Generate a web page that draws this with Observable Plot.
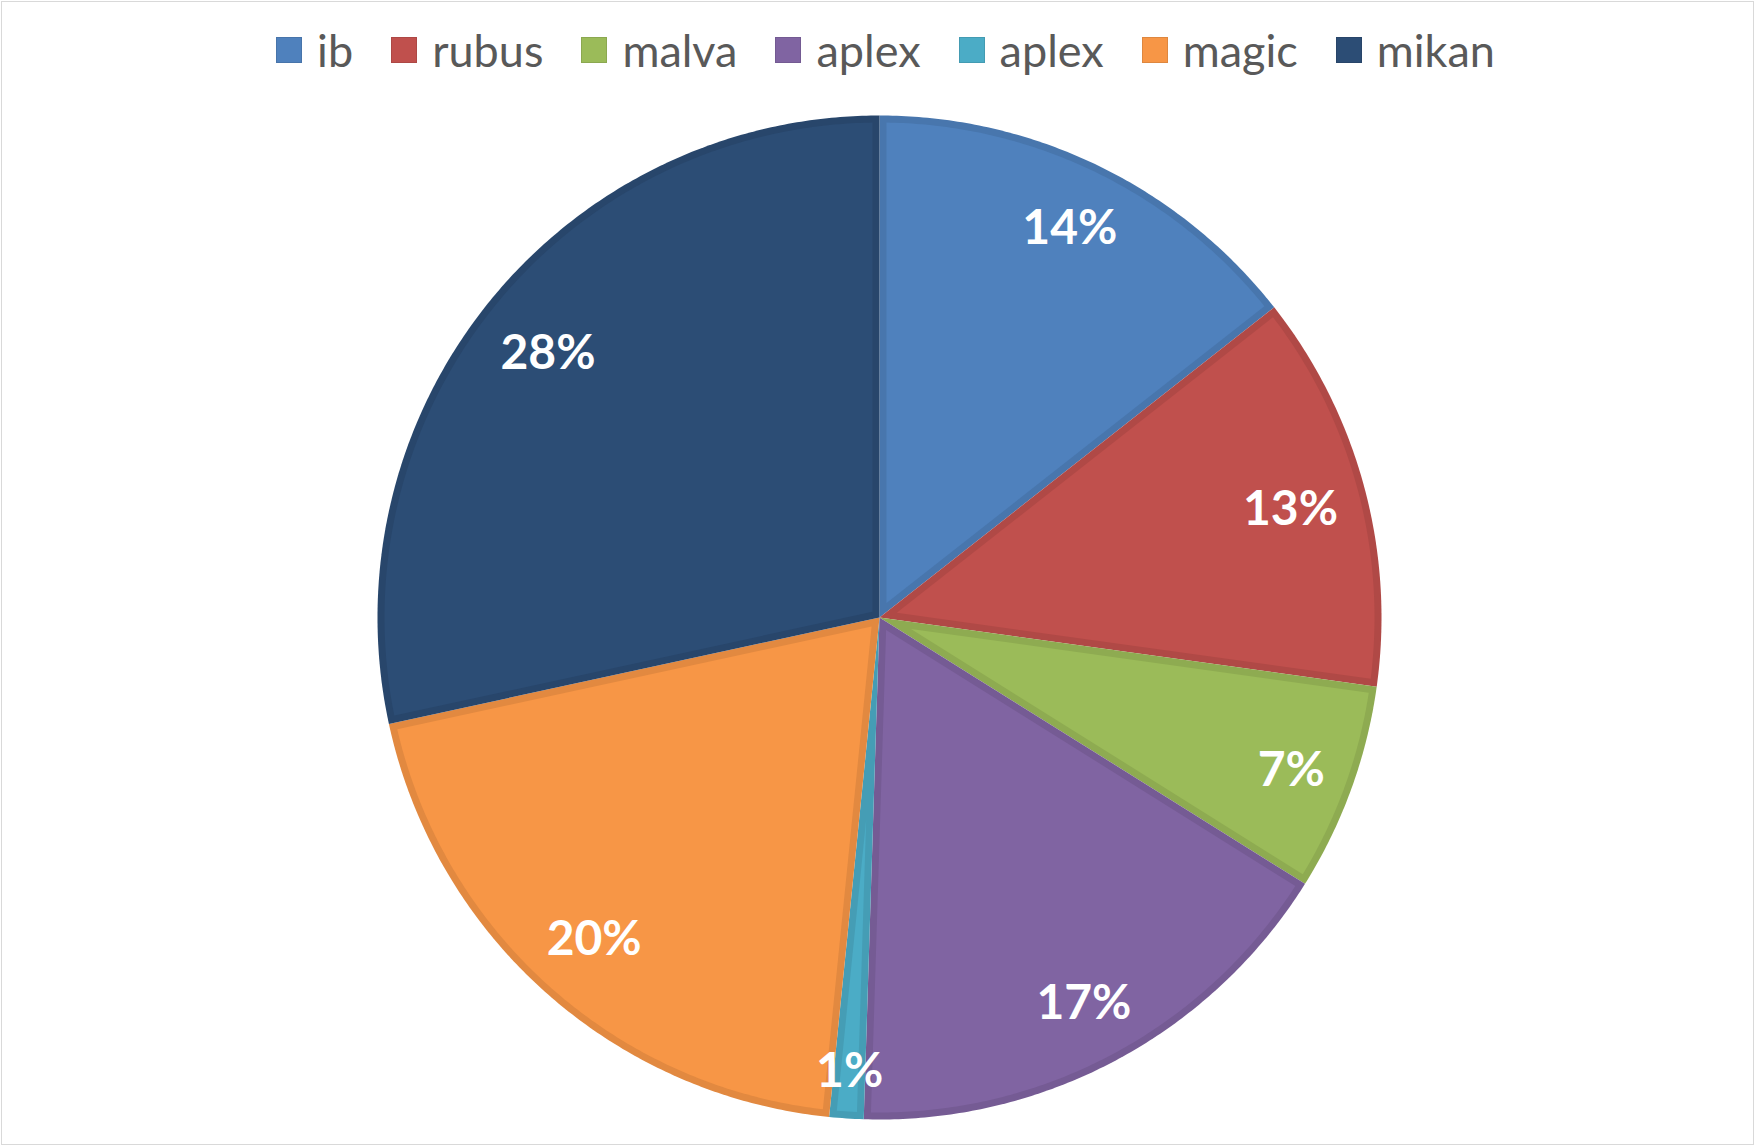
<!DOCTYPE html>
<html>
<head>
<meta charset="utf-8">
<script src="https://cdn.jsdelivr.net/npm/d3@7"></script>
<script src="https://cdn.jsdelivr.net/npm/@observablehq/plot@0.6"></script>
<style>
  html, body { margin: 0; padding: 0; background: #fff; }
  #frame {
    position: absolute; left: 1px; top: 1px;
    width: 1751px; height: 1142px;
    border: 1px solid #d9d9d9; background: #fff; overflow: hidden;
  }
  #legend {
    height: 100px; display: flex; justify-content: center; align-items: center;
    font-family: Lato, "Open Sans", sans-serif; font-size: 45px; color: #595959;
    padding-left: 16px; padding-bottom: 5px; box-sizing: border-box;
  }
  .item { display: flex; align-items: center; margin-right: 38px; }
  .item:last-child { margin-right: 0; }
  .swatch { width: 26px; height: 26px; margin-right: 15px; box-sizing: border-box; }
  #chart svg { display: block; }
</style>
</head>
<body>
<div id="frame">
  <div id="legend"></div>
  <div id="chart"></div>
</div>
<script>
// ---- data ----
const categories = ["ib", "rubus", "malva", "aplex", "aplex", "magic", "mikan"];
const shares = [14.4, 12.8, 6.7, 16.6, 1.1, 20.0, 28.4];
const palette = ["#4F81BD", "#C0504D", "#9BBB59", "#8064A2", "#4BACC6", "#F79646", "#2C4D75"];

// ---- layout ----
const W = 1751, H = 1042;
const cx = 877, cy = 515, R = 502;
const band = 7 / R;        // inner darker edge, in radius units
const labelFont = "bold 48px Lato, 'Open Sans', sans-serif";
const labelOuter = 0.952;  // outer reach of label boxes, radius units
const labelHalfH = 24;     // half label box height, px

// legend
const legend = d3.select("#legend");
categories.forEach((c, i) => {
  const it = legend.append("div").attr("class", "item");
  it.append("div").attr("class", "swatch")
    .style("background", palette[i])
    .style("border", "1px solid " + d3.rgb(palette[i]).darker(0.3).formatHex());
  it.append("span").text(c);
});

// slices
const total = d3.sum(shares);
let acc = 0;
const slices = shares.map((v, i) => {
  const a0 = acc / total * 2 * Math.PI;
  acc += v;
  const a1 = acc / total * 2 * Math.PI;
  return {id: i, name: categories[i], value: v, a0, a1, color: palette[i],
          dark: d3.rgb(palette[i]).darker(0.25).formatHex()};
});

function arcPoints(s, rho, b0, b1, apex) {
  const pts = [{id: s.id, x: apex[0], y: apex[1]}];
  const n = Math.max(4, Math.ceil((b1 - b0) / (Math.PI / 360)));
  for (let k = 0; k <= n; k++) {
    const a = b0 + (b1 - b0) * k / n;
    pts.push({id: s.id, x: rho * Math.sin(a), y: rho * Math.cos(a)});
  }
  return pts;
}

const outer = slices.flatMap(s => arcPoints(s, 1, s.a0, s.a1, [0, 0]).map(p => ({...p, fill: s.dark})));
const inner = slices.flatMap(s => {
  const half = (s.a1 - s.a0) / 2, mid = (s.a0 + s.a1) / 2;
  const off = band / Math.sin(half);
  const shift = Math.asin(band / (1 - band));
  const apex = [off * Math.sin(mid), off * Math.cos(mid)];
  return arcPoints(s, 1 - band, s.a0 + shift, s.a1 - shift, apex).map(p => ({...p, fill: s.color}));
});

// labels placed "inside end": label box reaches a fixed radius
const ctx = document.createElement("canvas").getContext("2d");
ctx.font = labelFont;
const labelData = slices.map(s => {
  const mid = (s.a0 + s.a1) / 2;
  const text = Math.round(s.value) + "%";
  const hw = ctx.measureText(text).width / 2;
  const extent = hw * Math.abs(Math.sin(mid)) + labelHalfH * Math.abs(Math.cos(mid));
  const rho = labelOuter - extent / R;
  return {x: rho * Math.sin(mid), y: rho * Math.cos(mid), text};
});

const chart = Plot.plot({
  width: W, height: H, margin: 0,
  x: {domain: [-1, 1], range: [cx - R, cx + R], axis: null},
  y: {domain: [-1, 1], range: [cy + R, cy - R], axis: null},
  color: {type: "identity"},
  style: {background: "white"},
  marks: [
    Plot.line(outer, {x: "x", y: "y", z: "id", fill: "fill", stroke: null, curve: "linear-closed"}),
    Plot.line(inner, {x: "x", y: "y", z: "id", fill: "fill", stroke: null, curve: "linear-closed"}),
    Plot.text(labelData, {x: "x", y: "y", text: "text", fill: "white", fontSize: 48, dy: 3,
      fontWeight: "bold", fontFamily: "Lato, 'Open Sans', sans-serif"})
  ]
});
document.getElementById("chart").appendChild(chart);
</script>
</body>
</html>
